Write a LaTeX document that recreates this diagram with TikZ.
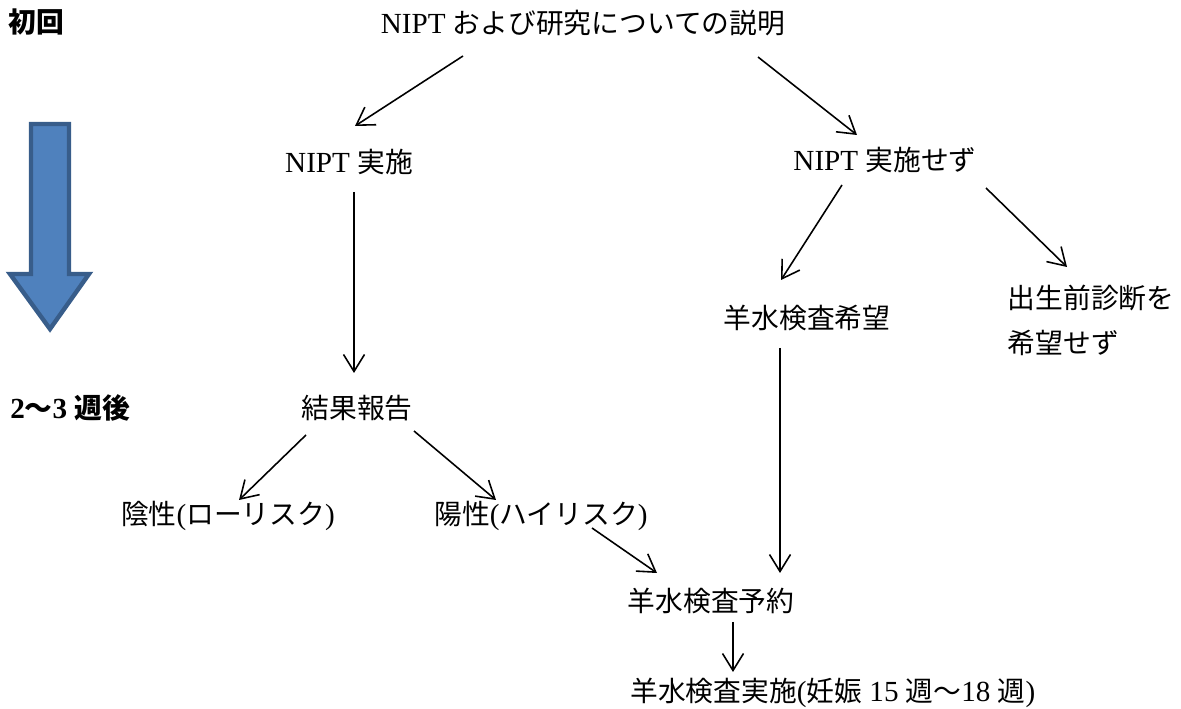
\documentclass[tikz,border=0pt]{standalone}
\usepackage{fontspec}
\setmainfont{Liberation Serif}[Scale=1.05]
\newfontfamily\cjk{Noto Sans CJK JP}
\newcommand{\jp}[1]{{\cjk #1}}
\usetikzlibrary{arrows.meta}
\definecolor{arrowfill}{RGB}{79,129,189}
\definecolor{arrowline}{RGB}{56,93,138}
\tikzset{
  lbl/.style={inner sep=0pt, font=\fontsize{15.8}{25.6}\selectfont},
  hd/.style={inner sep=0pt, font=\fontsize{15.8}{25.6}\selectfont\bfseries},
  flow/.style={-{Straight Barb[length=0.34cm,width=0.42cm]}, line width=0.9pt}
}
\begin{document}
\begin{tikzpicture}[x=0.02cm, y=-0.02cm]
    \useasboundingbox (0,0) rectangle (1181,709);

    % time line on the left
    \node[hd, anchor=west] (first) at (8,22) {\jp{初回}};
    \node[hd, anchor=west] (later) at (10,408) {2\jp{〜}3 \jp{週後}};
    \draw[fill=arrowfill, draw=arrowline, line width=2.5pt, line join=miter]
        (31,124) -- (69,124) -- (69,274) -- (89,274) -- (50,329) -- (10,274) -- (31,274) -- cycle;

    % steps
    \node[lbl] (desc) at (583,23) {NIPT \jp{および研究についての説明}};
    \node[lbl] (impl) at (349,162) {NIPT \jp{実施}};
    \node[lbl] (noimpl) at (885,160) {NIPT \jp{実施せず}};
    \node[lbl] (wish) at (807,318) {\jp{羊水検査希望}};
    \node[lbl, align=left] (nodx) at (1091,320) {\jp{出生前診断を}\\\jp{希望せず}};
    \node[lbl] (result) at (357,408) {\jp{結果報告}};
    \node[lbl] (neg) at (228,516) {\jp{陰性}(\jp{ローリスク})};
    \node[lbl] (pos) at (541,516) {\jp{陽性}(\jp{ハイリスク})};
    \node[lbl] (book) at (711,601) {\jp{羊水検査予約}};
    \node[lbl, anchor=west] (exam) at (630,693) {\jp{羊水検査実施}(\jp{妊娠} 15 \jp{週〜}18 \jp{週})};

    % arrows
    \draw[flow] ([shift={(-120,33)}]desc.center) -- ([shift={(6,-36)}]impl.center);
    \draw[flow] ([shift={(175,34)}]desc.center) -- ([shift={(-28,-25)}]noimpl.center);
    \draw[flow] ([shift={(5,30)}]impl.center) -- ([shift={(-3,-35)}]result.center);
    \draw[flow] ([shift={(-43,25)}]noimpl.center) -- ([shift={(-26,-38)}]wish.center);
    \draw[flow] ([shift={(101,28)}]noimpl.center) -- ([shift={(-24,-53)}]nodx.center);
    \draw[flow] ([shift={(-51,27)}]result.center) -- ([shift={(11,-16)}]neg.center);
    \draw[flow] ([shift={(57,23)}]result.center) -- ([shift={(-45,-16)}]pos.center);
    \draw[flow] ([shift={(-27,30)}]wish.center) -- ([shift={(69,-28)}]book.center);
    \draw[flow] ([shift={(51,12)}]pos.center) -- ([shift={(-54,-28)}]book.center);
    \draw[flow] ([shift={(22,21)}]book.center) -- ([shift={(103,-21)}]exam.west);

\end{tikzpicture}
\end{document}
